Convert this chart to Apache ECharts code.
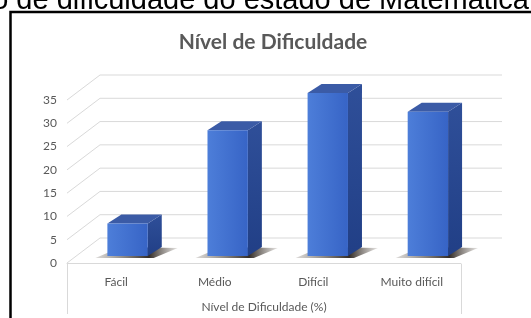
<!DOCTYPE html>
<html>
<head>
<meta charset="utf-8">
<script src="https://cdn.jsdelivr.net/npm/echarts@6/dist/echarts.min.js"></script>
<style>
  html, body { margin: 0; padding: 0; background: #fff; }
  #chart { width: 531px; height: 318px; }
</style>
</head>
<body>
<div id="chart"></div>
<script>
// dados do gráfico
var categorias = ['Fácil', 'Médio', 'Difícil', 'Muito difícil'];
var valores = [7, 27, 35, 31];
var ticks = [0, 5, 10, 15, 20, 25, 30, 35];

var cinza = '#595959';
var fonte = 'Lato, "Open Sans", sans-serif';

// profundidade da "caixa" 3D (plano de trás)
var fundoDX = 33, fundoDY = -25, fundoExtra = 8;

var myChart = echarts.init(document.getElementById('chart'));

// linhas de grade: diagonal no lado esquerdo + horizontal no plano de trás
function renderGrade(params, api) {
  var p = api.coord([0, api.value(1)]);
  var cs = params.coordSys;
  var x0 = cs.x, x1 = cs.x + cs.width;
  var y = p[1];
  return {
    type: 'polyline',
    shape: { points: [[x0, y], [x0 + fundoDX, y + fundoDY], [x1 + fundoDX + fundoExtra, y + fundoDY]] },
    style: { stroke: '#d9d9d9', lineWidth: 1, fill: null }
  };
}

// barras com efeito 3D
function renderBarra(params, api) {
  var idx = api.value(0);
  var topo = api.coord([idx, api.value(1)]);
  var base = api.coord([idx, 0]);
  var band = api.size([1, 0])[0];
  var w = band * 0.41;
  var shiftX = band * 0.115 + idx * 1.6;
  var shiftY = -7;
  var xL = topo[0] - w / 2 + shiftX, xR = xL + w;
  var yT = topo[1] + shiftY, yB = base[1] + shiftY;
  var dx = 14, dy = -9;
  return {
    type: 'group',
    children: [
      { type: 'polygon',
        shape: { points: [[xL - 12, yB + 2], [xR + 6, yB + 2], [xR + dx + 16, yB + dy + 1], [xL + dx, yB + dy]] },
        style: { fill: new echarts.graphic.LinearGradient(0, 0, 1, 0, [
          { offset: 0, color: 'rgba(90,80,70,0.2)' },
          { offset: 0.65, color: 'rgba(40,33,28,0.95)' },
          { offset: 1, color: 'rgba(90,80,70,0.15)' }]) } },
      { type: 'polygon',
        shape: { points: [[xR, yT], [xR + dx, yT + dy], [xR + dx, yB + dy], [xR, yB]] },
        style: { fill: new echarts.graphic.LinearGradient(0, 0, 0, 1, [
          { offset: 0, color: '#2f4f99' }, { offset: 1, color: '#213f86' }]) } },
      { type: 'polygon',
        shape: { points: [[xL, yT], [xL + dx, yT + dy], [xR + dx, yT + dy], [xR, yT]] },
        style: { fill: '#3b5ba6' } },
      { type: 'rect',
        shape: { x: xL, y: yT, width: w, height: yB - yT },
        style: { fill: new echarts.graphic.LinearGradient(0, 0, 1, 0, [
          { offset: 0, color: '#4d7ed9' }, { offset: 1, color: '#3764c6' }]) } }
    ]
  };
}

myChart.setOption({
  backgroundColor: '#fff',
  animation: false,
  title: {
    text: 'Nível de Dificuldade',
    left: 268,
    top: 27,
    textAlign: 'center',
    textStyle: { fontFamily: fonte, fontSize: 21, fontWeight: 'bold', color: cinza }
  },
  grid: { left: 67, right: 70, top: 100, bottom: 54 },
  xAxis: {
    type: 'category',
    data: categorias,
    axisLine: { lineStyle: { color: '#d9d9d9' } },
    axisTick: { show: false },
    axisLabel: { color: cinza, fontFamily: fonte, fontSize: 12, margin: 13 },
    name: 'Nível de Dificuldade (%)',
    nameLocation: 'middle',
    nameGap: 38,
    nameTextStyle: { color: cinza, fontFamily: fonte, fontSize: 12 }
  },
  yAxis: {
    type: 'value',
    min: 0,
    max: 35,
    interval: 5,
    axisLine: { show: false },
    axisTick: { show: false },
    splitLine: { show: false },
    axisLabel: { color: cinza, fontFamily: fonte, fontSize: 12, margin: 10 }
  },
  graphic: [
    { type: 'text', x: 529, y: 15,
      style: { text: 'o de dificuldade do estado de Matemática', font: '29px "Liberation Sans", Arial, sans-serif',
               fill: '#000', align: 'right', verticalAlign: 'bottom' } },
    { type: 'rect', shape: { x: 10.5, y: 12, width: 600, height: 400 },
      style: { fill: null, stroke: '#000', lineWidth: 2.5 } },
    { type: 'polyline', shape: { points: [[67.5, 264], [67.5, 314]] }, style: { stroke: '#d9d9d9', lineWidth: 1 } },
    { type: 'polyline', shape: { points: [[461.5, 264], [461.5, 314]] }, style: { stroke: '#d9d9d9', lineWidth: 1 } }
  ],
  series: [
    {
      type: 'custom',
      z: 1,
      renderItem: renderGrade,
      encode: { x: 0, y: 1 },
      data: ticks.map(function (v) { return [0, v]; }),
      silent: true
    },
    {
      type: 'custom',
      z: 2,
      renderItem: renderBarra,
      encode: { x: 0, y: 1 },
      data: valores.map(function (v, i) { return [i, v]; })
    }
  ]
});
</script>
</body>
</html>
